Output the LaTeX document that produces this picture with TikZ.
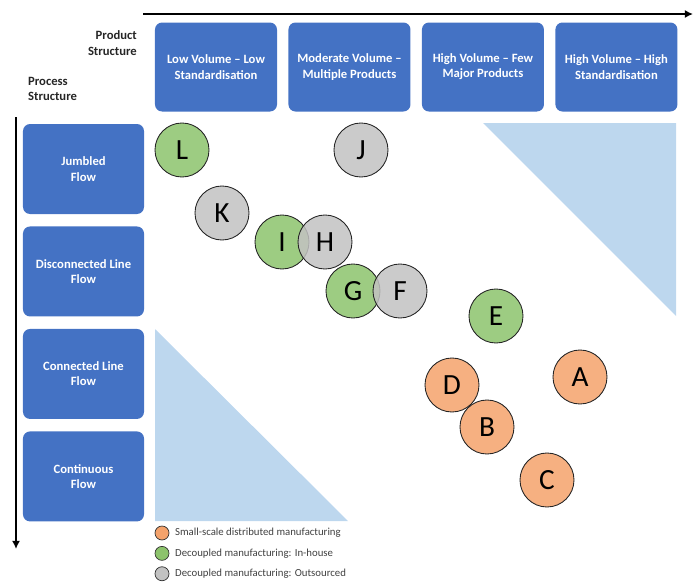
\documentclass[tikz,border=0pt]{standalone}
\usepackage{fontspec}
\setmainfont{Carlito}
\usetikzlibrary{positioning,arrows.meta}

\definecolor{boxblue}{HTML}{4472C4}
\definecolor{zoneblue}{HTML}{BDD7EE}
\definecolor{smallorange}{HTML}{F4A26B}
\definecolor{inhousegreen}{HTML}{8CC36C}
\definecolor{outgray}{HTML}{C2C2C2}

\tikzset{
  headbox/.style={draw=none, fill=boxblue, rounded corners=6pt, text=white,
    font=\fontsize{10.8}{13}\selectfont\bfseries, align=center,
    minimum width=3.66cm, minimum height=2.67cm, inner sep=0pt},
  flowbox/.style={headbox, minimum width=3.63cm, minimum height=2.7cm},
  site/.style={circle, draw=black!85, line width=0.75pt, fill opacity=0.85,
    text opacity=1, minimum size=1.62cm, inner sep=0pt,
    font=\fontsize{25}{25}\selectfont},
  small/.style={site, fill=smallorange},
  inhouse/.style={site, fill=inhousegreen},
  outsourced/.style={site, fill=outgray},
  keydot/.style={circle, draw=black!80, line width=0.6pt, minimum size=0.42cm, inner sep=0pt},
  keytext/.style={anchor=west, font=\fontsize{9.2}{11}\selectfont, text=black!75},
  axislabel/.style={font=\fontsize{10.8}{13}\selectfont\bfseries, text=black!85}
}

\begin{document}
\begin{tikzpicture}[x=0.03cm, y=-0.03cm]
  \useasboundingbox (0,0) rectangle (697,583);

  % Zones
  \fill[zoneblue] (483,123) -- (676,123) -- (676,316) -- cycle;
  \fill[zoneblue] (155,329) -- (155,521) -- (348,521) -- cycle;

  % Product structure
  \node[headbox] (low) at (216,67) {Low Volume -- Low\\Standardisation};
  \node[headbox, right=0.33cm of low] (moderate) {Moderate Volume --\\Multiple Products};
  \node[headbox, right=0.33cm of moderate] (fewmajor) {High Volume -- Few\\Major Products};
  \node[headbox, right=0.33cm of fewmajor] (highstd) {High Volume -- High\\Standardisation};

  % Process structure
  \node[flowbox] (jumbled) at (83.5,169) {Jumbled\\Flow};
  \node[flowbox, below=0.36cm of jumbled] (disconnected) {Disconnected Line\\Flow};
  \node[flowbox, below=0.36cm of disconnected] (connected) {Connected Line\\Flow};
  \node[flowbox, below=0.36cm of connected] (continuous) {Continuous\\Flow};

  \node[axislabel, align=right, anchor=east] (product) at (141,43) {Product\\Structure};
  \node[axislabel, align=left, anchor=west] (process) at (24,89) {Process\\Structure};

  % Axes
  \coordinate (xstart) at (143,14);
  \coordinate (xend) at (693,14);
  \coordinate (ystart) at (16,117);
  \coordinate (yend) at (16,549);
  \draw[line width=1.6pt, -{Latex[length=7pt,width=7pt]}] (xstart) -- (xend);
  \draw[line width=1.6pt, -{Latex[length=7pt,width=7pt]}] (ystart) -- (yend);

  % Sites
  \node[inhouse] (L) at (182,150) {L};
  \node[outsourced] (J) at (361,150) {J};
  \node[outsourced] (K) at (222,213) {K};
  \node[inhouse] (I) at (282,242) {I};
  \node[outsourced] (H) at (325,242) {H};
  \node[inhouse] (G) at (353,291) {G};
  \node[outsourced] (F) at (400,291) {F};
  \node[inhouse] (E) at (496,316) {E};
  \node[small] (A) at (580,377) {A};
  \node[small] (D) at (452,385) {D};
  \node[small] (B) at (487,427) {B};
  \node[small] (C) at (547,480) {C};

  % Legend
  \node[keydot, fill=smallorange] (keysmall) at (162,533) {};
  \node[keydot, fill=inhousegreen, below=0.17cm of keysmall] (keyinhouse) {};
  \node[keydot, fill=outgray, below=0.17cm of keyinhouse] (keyout) {};
  \node[keytext, right=0.05cm of keysmall] {Small-scale distributed manufacturing};
  \node[keytext, right=0.05cm of keyinhouse] {Decoupled manufacturing: In-house};
  \node[keytext, right=0.05cm of keyout] {Decoupled manufacturing: Outsourced};
\end{tikzpicture}
\end{document}
